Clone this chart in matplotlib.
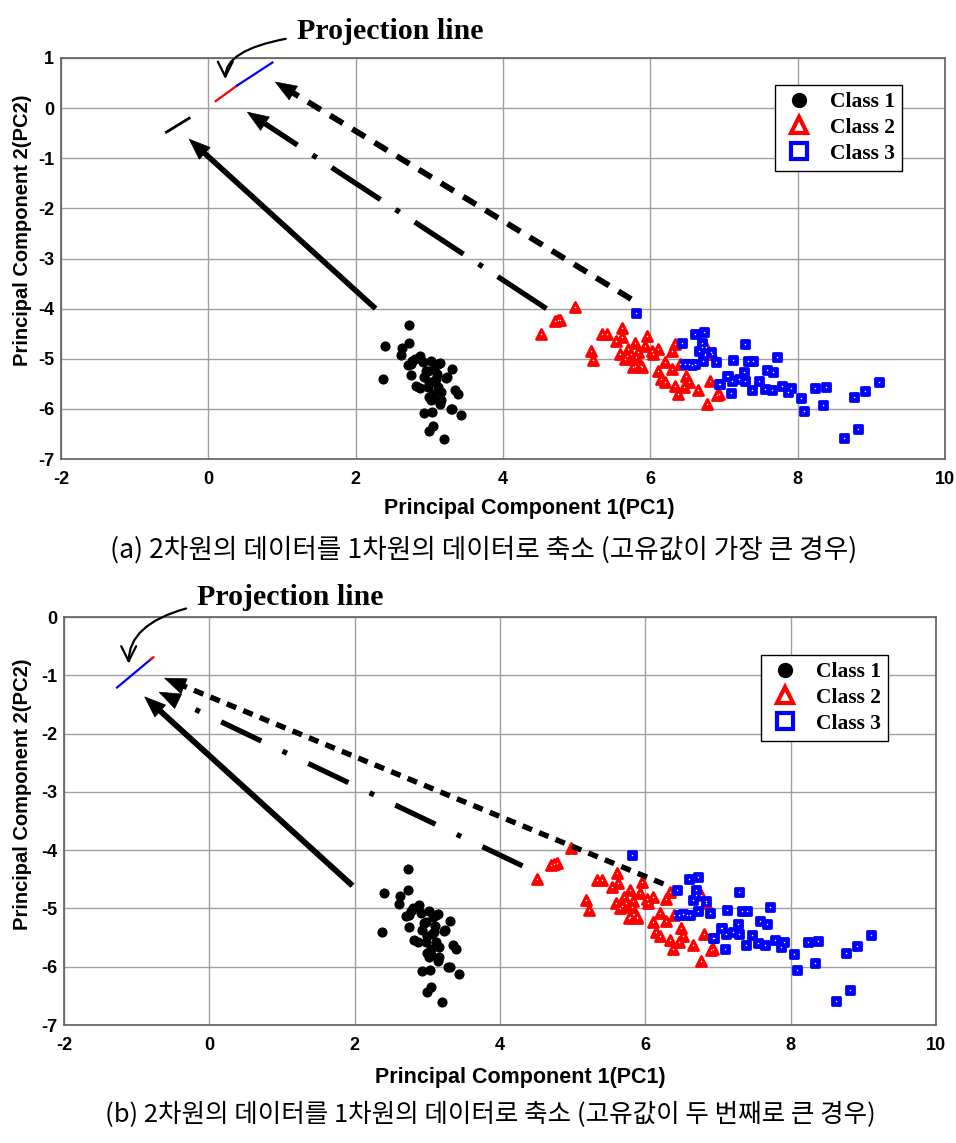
import numpy as np
import matplotlib
matplotlib.use("Agg")
import matplotlib.pyplot as plt
from matplotlib.patches import Polygon
from matplotlib.lines import Line2D
from matplotlib.markers import MarkerStyle

plt.rcParams['lines.scale_dashes'] = False

# ---------------- data (same point cloud in both panels) ----------------
c1_x = [2.73, 2.40, 2.63, 2.73, 2.61, 2.88, 2.75, 3.02, 3.14, 2.75, 2.93, 3.09, 3.24, 3.31,
        2.37, 2.82, 2.98, 3.05, 3.16, 3.35, 3.39, 3.02, 3.14, 3.31, 3.43, 2.93, 3.03, 3.05,
        2.99, 3.20, 2.98, 2.91, 3.08, 3.00, 3.12, 2.87, 3.05, 3.06, 3.00, 3.16, 2.80, 2.95,
        3.10, 2.77, 2.71, 3.12, 3.23, 3.29]
c1_y = [-4.33, -4.74, -4.78, -4.68, -4.92, -4.94, -5.11, -5.04, -5.09, -5.32, -5.37, -5.40, -5.37, -5.21,
        -5.41, -5.54, -5.57, -5.70, -5.67, -5.63, -5.70, -5.83, -5.90, -6.00, -6.13, -6.08, -6.06, -6.35,
        -6.44, -6.61, -5.24, -5.07, -5.14, -5.47, -5.57, -5.58, -5.80, -5.44, -5.77, -5.83, -5.00, -5.25,
        -5.30, -5.04, -5.13, -5.11, -5.38, -6.01]

c2_x = [4.98, 4.74, 4.70, 4.78, 4.51, 5.34, 5.41, 5.61, 5.54, 5.62, 5.95, 5.79, 5.19, 5.22,
        5.59, 5.70, 5.74, 5.81, 5.83, 5.93, 6.02, 6.11, 6.04, 5.77, 5.89, 6.29, 6.34, 6.20,
        6.10, 6.29, 6.40, 6.15, 6.20, 6.34, 6.49, 6.52, 6.46, 6.38, 6.65, 6.81, 6.91, 6.77,
        6.84, 5.68, 5.65, 6.93, 6.76, 5.79, 5.88]
c2_y = [-3.96, -4.23, -4.25, -4.22, -4.50, -4.51, -4.51, -4.39, -4.64, -4.57, -4.54, -4.68, -4.85, -5.02,
        -4.91, -4.81, -4.91, -4.97, -4.87, -4.74, -4.84, -4.81, -4.90, -5.16, -5.16, -4.84, -4.71, -5.07,
        -5.24, -5.21, -5.11, -5.40, -5.47, -5.54, -5.34, -5.47, -5.57, -5.70, -5.62, -5.44, -5.72, -5.90,
        -4.90, -4.95, -5.00, -5.70, -4.77, -5.14, -5.15]

c3_x = [5.81, 6.60, 6.73, 6.43, 6.70, 6.70, 6.83, 7.29, 6.47, 6.61, 6.72, 6.89, 7.12, 7.33,
        7.40, 7.72, 7.58, 7.67, 7.04, 7.11, 7.27, 7.29, 7.47, 6.93, 7.10, 7.38, 7.55, 7.65,
        7.79, 7.91, 7.87, 8.04, 8.09, 8.24, 8.38, 8.34, 8.76, 8.91, 9.11, 8.82, 8.63, 6.52,
        6.57, 6.95, 7.06, 7.20, 6.66]
c3_y = [-4.08, -4.50, -4.46, -4.68, -4.68, -4.77, -4.87, -4.71, -5.11, -5.11, -5.04, -5.07, -5.03, -5.05,
        -5.04, -4.97, -5.22, -5.27, -5.34, -5.44, -5.27, -5.44, -5.45, -5.50, -5.69, -5.62, -5.60, -5.63,
        -5.54, -5.58, -5.67, -5.78, -6.05, -5.58, -5.56, -5.93, -5.77, -5.65, -5.46, -6.40, -6.58, -5.10,
        -5.12, -5.50, -5.34, -5.40, -4.85]

class_labels = ["Class 1", "Class 2", "Class 3"]
x_ticks = [-2, 0, 2, 4, 6, 8, 10]
y_ticks_a = [-7, -6, -5, -4, -3, -2, -1, 0, 1]
y_ticks_b = [-7, -6, -5, -4, -3, -2, -1, 0]

captions = ["(a) 2차원의 데이터를 1차원의 데이터로 축소 (고유값이 가장 큰 경우)",
            "(b) 2차원의 데이터를 1차원의 데이터로 축소 (고유값이 두 번째로 큰 경우)"]
annot_text = "Projection line"

# annotation geometry (data coords): (tail, tip)
arrows_a = {"solid": ((2.27, -4.00), (-0.26, -0.62)),
            "dashdot": ((4.59, -4.00), (0.53, -0.08)),
            "dashed": ((5.74, -3.81), (0.91, 0.52))}
arrows_b = {"solid": ((1.97, -4.61), (-0.89, -1.37)),
            "dashdot": ((4.31, -4.27), (-0.69, -1.29)),
            "dashed": ((6.25, -4.58), (-0.615, -1.05))}
proj_a = {"red": ((0.10, 0.14), (0.39, 0.45)), "blue": ((0.39, 0.45), (0.87, 0.91))}
proj_b = {"blue": ((-1.27, -1.21), (-0.80, -0.72)), "red": ((-0.81, -0.73), (-0.77, -0.69))}
short_seg_a = ((-0.57, -0.48), (-0.26, -0.20))
label_a = {"text": (1.20, 1.53), "target": (0.23, 0.58)}
label_b = {"text": (-0.17, 0.33), "target": (-1.11, -0.80)}

# ---------------- figure ----------------
fig = plt.figure(figsize=(9.56, 11.43), dpi=100)
ax_a = fig.add_axes([61/956, 1-459/1143, 884/956, 401/1143])
ax_b = fig.add_axes([64/956, 1-1025/1143, 872/956, 408/1143])

SANS = ['Liberation Sans', 'DejaVu Sans']
SERIF = ['Liberation Serif', 'DejaVu Serif']
CJK = ['Noto Sans CJK KR', 'DejaVu Sans']

styles_a = {"solid": dict(ls='-', lw=4.0),
            "dashdot": dict(ls=(0, (42, 13, 3.5, 13)), lw=3.8),
            "dashed": dict(ls=(0, (10.8, 7.9)), lw=4.2)}
styles_b = {"solid": dict(ls='-', lw=4.2),
            "dashdot": dict(ls=(0, (32, 17, 3.5, 17)), lw=3.8),
            "dashed": dict(ls=(0, (7.3, 5.5)), lw=3.9)}

TRI = MarkerStyle('^', joinstyle='round')
SQR = MarkerStyle('s', joinstyle='round')


def draw_arrow(ax, tail, tip, style, hl=21, hw=16):
    T = ax.transData
    inv = T.inverted()
    p0 = T.transform(tail)
    p1 = T.transform(tip)
    d = p1 - p0
    u = d / np.hypot(*d)
    perp = np.array([-u[1], u[0]])
    end = inv.transform(p1 - u * hl * 0.85)
    ax.plot([tail[0], end[0]], [tail[1], end[1]], color='k',
            solid_capstyle='butt', dash_capstyle='butt', zorder=4, **style)
    hb = p1 - u * hl
    pts = np.array([p1, hb + perp * hw / 2, hb - perp * hw / 2])
    ax.add_patch(Polygon(inv.transform(pts), closed=True, facecolor='k',
                         edgecolor='k', lw=0.5, zorder=5))


def setup(ax, yticks, ylim, ylab_xy, xlab_xy):
    ax.set_xlim(-2, 10)
    ax.set_ylim(*ylim)
    ax.set_xticks(x_ticks)
    ax.set_yticks(yticks)
    ax.set_xticklabels([str(t) for t in x_ticks], fontfamily=SANS, fontweight='bold', fontsize=13)
    ax.set_yticklabels([str(t) for t in yticks], fontfamily=SANS, fontweight='bold', fontsize=13)
    ax.tick_params(axis='both', length=0)
    ax.tick_params(axis='x', pad=9)
    ax.tick_params(axis='y', pad=5)
    ax.grid(True, color='#a0a0a0', lw=1.0)
    ax.set_axisbelow(True)
    for s in ax.spines.values():
        s.set_color('#606060')
        s.set_linewidth(1.2)
    ax.set_xlabel("Principal Component 1(PC1)", fontfamily=SANS, fontweight='bold', fontsize=15.5)
    ax.set_ylabel("Principal Component 2(PC2)", fontfamily=SANS, fontweight='bold', fontsize=14.5)
    ax.xaxis.set_label_coords(*xlab_xy)
    ax.yaxis.set_label_coords(*ylab_xy)


def scatter(ax):
    ax.plot(c1_x, c1_y, 'o', color='k', ms=6.3, zorder=3)
    ax.plot(c2_x, c2_y, ls='none', marker=TRI, mfc='red', mec='red', ms=7.8, mew=2.0, zorder=3)
    ax.plot(c3_x, c3_y, ls='none', marker=SQR, mfc='blue', mec='blue', ms=6.0, mew=2.0, zorder=3)
    # tiny light centres of the thick-edged markers
    ax.plot(c2_x, c2_y, ls='none', marker='o', mfc='white', mec='none', ms=1.1, zorder=3.1)
    ax.plot(c3_x, c3_y, ls='none', marker='o', mfc='white', mec='none', ms=1.1, zorder=3.1)


def legend(ax, anchor):
    handles = [Line2D([], [], ls='none', marker='o', color='k', ms=10),
               Line2D([], [], ls='none', marker='^', mfc='white', mec='red', ms=11, mew=3),
               Line2D([], [], ls='none', marker='s', mfc='white', mec='blue', ms=11, mew=3)]
    lg = ax.legend(handles, class_labels, loc='upper right', bbox_to_anchor=anchor,
                   prop=dict(family=SERIF, weight='bold', size=15.5), frameon=True,
                   fancybox=False, edgecolor='black', framealpha=1, borderpad=0.33,
                   labelspacing=0.27, handletextpad=0.65, handlelength=1.55, borderaxespad=0)
    lg.get_frame().set_linewidth(1.0)


def label(ax, spec):
    ax.annotate(annot_text, xy=spec["target"], xytext=spec["text"], textcoords='data',
                ha='left', va='center', fontfamily=SERIF, fontweight='bold', fontsize=21.5,
                annotation_clip=False,
                arrowprops=dict(arrowstyle='->,head_length=0.5,head_width=0.25', color='k', lw=1.6,
                                connectionstyle='angle3,angleA=0,angleB=90',
                                shrinkA=6, shrinkB=0))


# ----- panel (a)
setup(ax_a, y_ticks_a, (-7, 1), (-0.033, 0.57), (0.53, -0.097))
scatter(ax_a)
for k, (tail, tip) in arrows_a.items():
    draw_arrow(ax_a, tail, tip, styles_a[k])
for col, (p, q) in proj_a.items():
    ax_a.plot([p[0], q[0]], [p[1], q[1]], color=col, lw=1.6, zorder=4)
ax_a.plot([short_seg_a[0][0], short_seg_a[1][0]], [short_seg_a[0][1], short_seg_a[1][1]],
          color='k', lw=2.0, zorder=4)
legend(ax_a, (0.951, 0.933))
label(ax_a, label_a)

# ----- panel (b)
setup(ax_b, y_ticks_b, (-7, 0), (-0.037, 0.565), (0.523, -0.102))
scatter(ax_b)
for k, (tail, tip) in arrows_b.items():
    draw_arrow(ax_b, tail, tip, styles_b[k])
for col, (p, q) in proj_b.items():
    ax_b.plot([p[0], q[0]], [p[1], q[1]], color=col, lw=1.6, zorder=4)
legend(ax_b, (0.945, 0.907))
label(ax_b, label_b)

fig.text(484/956, 1-550/1143, captions[0], ha='center', va='center', fontfamily=CJK, fontsize=19.2)
fig.text(490/956, 1-1115/1143, captions[1], ha='center', va='center', fontfamily=CJK, fontsize=18.4)

fig.savefig("out.png", dpi=100)
